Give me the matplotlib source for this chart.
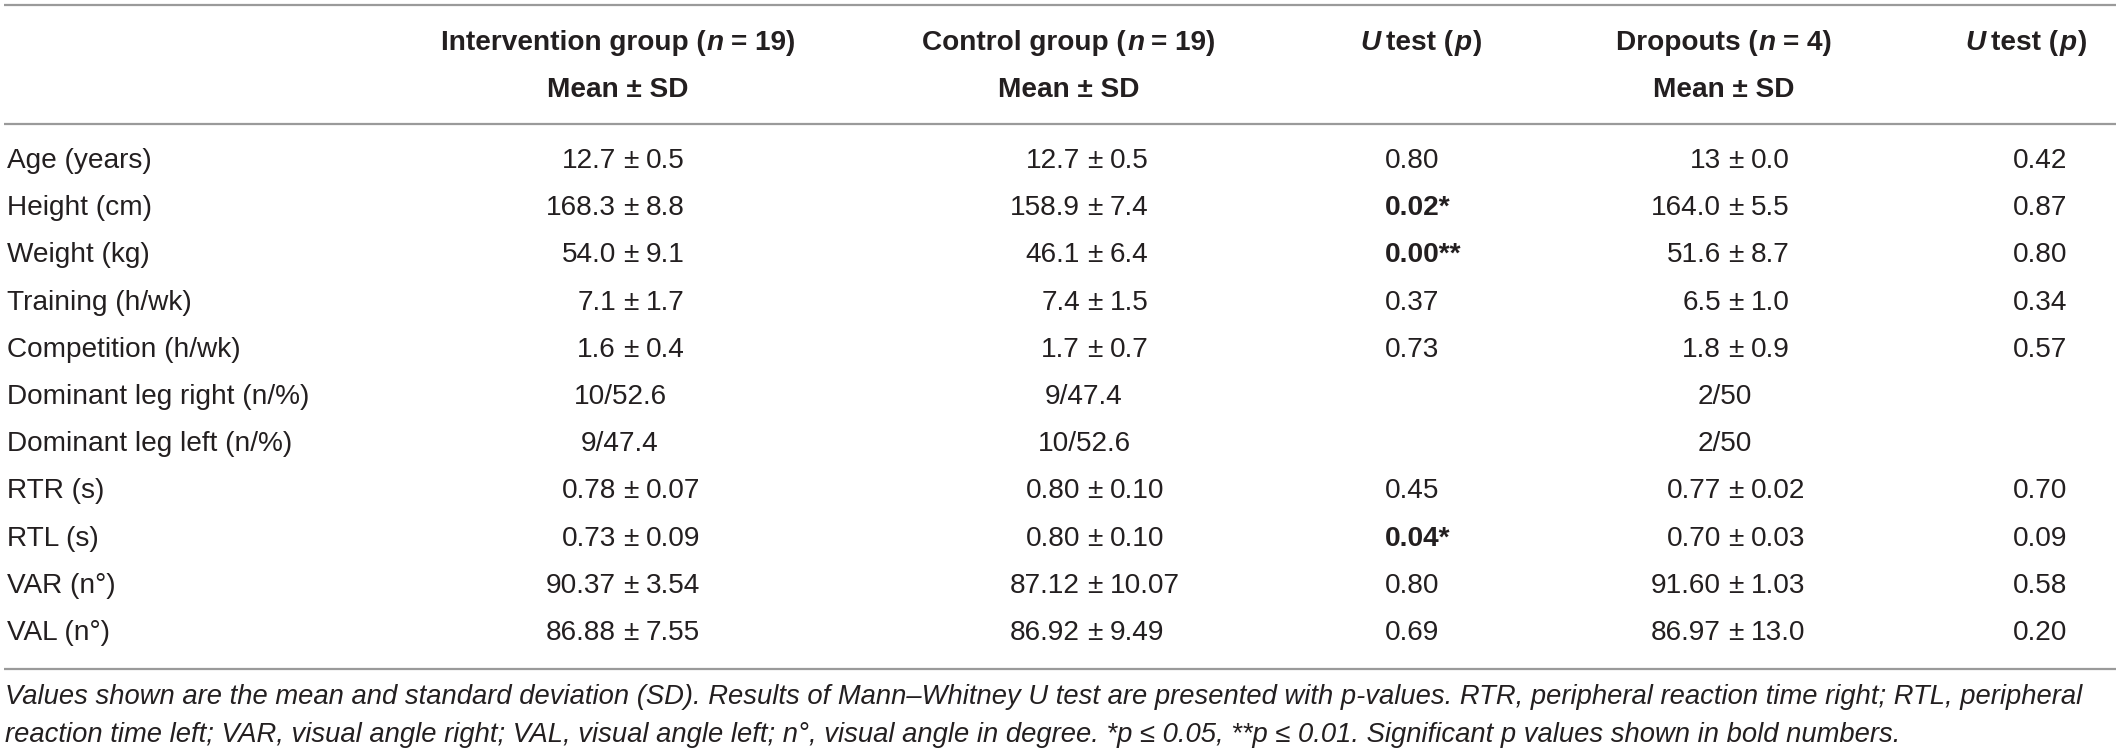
import matplotlib
matplotlib.use('Agg')
import matplotlib.pyplot as plt
from matplotlib import font_manager as fm

# table content
labels = ['Age (years)', 'Height (cm)', 'Weight (kg)', 'Training (h/wk)',
          'Competition (h/wk)', 'Dominant leg right (n/%)', 'Dominant leg left (n/%)',
          'RTR (s)', 'RTL (s)', 'VAR (n°)', 'VAL (n°)']
intervention = ['12.7 ± 0.5', '168.3 ± 8.8', '54.0 ± 9.1', '7.1 ± 1.7', '1.6 ± 0.4',
                '10/52.6', '9/47.4', '0.78 ± 0.07', '0.73 ± 0.09', '90.37 ± 3.54', '86.88 ± 7.55']
control = ['12.7 ± 0.5', '158.9 ± 7.4', '46.1 ± 6.4', '7.4 ± 1.5', '1.7 ± 0.7',
           '9/47.4', '10/52.6', '0.80 ± 0.10', '0.80 ± 0.10', '87.12 ± 10.07', '86.92 ± 9.49']
u_control = ['0.80', '0.02*', '0.00**', '0.37', '0.73', '', '', '0.45', '0.04*', '0.80', '0.69']
dropouts = ['13 ± 0.0', '164.0 ± 5.5', '51.6 ± 8.7', '6.5 ± 1.0', '1.8 ± 0.9',
            '2/50', '2/50', '0.77 ± 0.02', '0.70 ± 0.03', '91.60 ± 1.03', '86.97 ± 13.0']
u_dropouts = ['0.42', '0.87', '0.80', '0.34', '0.57', '', '', '0.70', '0.09', '0.58', '0.20']

caption = ['Values shown are the mean and standard deviation (SD). Results of Mann–Whitney U test are '
           'presented with p-values. RTR, peripheral reaction time right; RTL, peripheral',
           'reaction time left; VAR, visual angle right; VAL, visual angle left; n°, visual angle in '
           'degree. *p ≤ 0.05, **p ≤ 0.01. Significant p values shown in bold numbers.']


def has_font(name):
    try:
        fm.findfont(fm.FontProperties(family=name), fallback_to_default=False)
        return True
    except ValueError:
        return False


if has_font('Liberation Sans Narrow'):
    body_font, body_size, cap_size = 'Liberation Sans Narrow', 24.5, 24
else:
    body_font, body_size, cap_size = 'Liberation Sans', 20.2, 19.75
head_font, head_size = 'Liberation Sans', 20.2
ink = '#231f20'

fig = plt.figure(figsize=(21.18, 7.54), dpi=100)
ax = fig.add_axes([0, 0, 1, 1])
ax.set_xlim(0, 2118)
ax.set_ylim(754, 0)
ax.axis('off')
renderer = fig.canvas.get_renderer()

ax.hlines([5, 124, 669], 4, 2116, color='#9a9a9a', lw=1.6)


def runs(x, y, parts):
    # parts: (text, style) pairs or numbers for gaps in px; centred at x
    items = []
    for p in parts:
        if isinstance(p, (int, float)):
            items.append((None, p))
            continue
        s, style = p
        t = ax.text(0, y, s, ha='left', va='center', color=ink, family=head_font,
                    size=head_size, fontweight='bold',
                    fontstyle='italic' if style == 'i' else 'normal')
        items.append((t, t.get_window_extent(renderer).width))
    total = sum(w for _, w in items)
    cur = x - total / 2
    for t, w in items:
        if t is not None:
            t.set_x(cur)
        cur += w


# header
y1, y2 = 43, 90
runs(618, y1, [('Intervention group (', 'b'), 1, ('n', 'i'), 7, ('= 19)', 'b')])
runs(1069, y1, [('Control group (', 'b'), 1, ('n', 'i'), 7, ('= 19)', 'b')])
runs(1421, y1, [('U', 'i'), 6, ('test (', 'b'), 1, ('p', 'i'), 1, (')', 'b')])
runs(1724, y1, [('Dropouts (', 'b'), 1, ('n', 'i'), 7, ('= 4)', 'b')])
runs(2026, y1, [('U', 'i'), 6, ('test (', 'b'), 1, ('p', 'i'), 1, (')', 'b')])
for xc in (618, 1069, 1724):
    ax.text(xc, y2, 'Mean ± SD', ha='center', va='center', color=ink,
            family=head_font, size=head_size, fontweight='bold')

body = dict(va='center', color=ink, family=body_font, size=body_size)


def cell(x_pm, y, s):
    if ' ± ' in s:
        m, sd = s.split(' ± ')
        ax.text(x_pm - 15, y, m, ha='right', **body)
        ax.text(x_pm, y, '±', ha='center', **body)
        ax.text(x_pm + 15, y, sd, ha='left', **body)
    else:
        ax.text(x_pm - 11, y, s, ha='center', **body)


row_y0, row_dy = 161, 47.2
for i, lab in enumerate(labels):
    y = row_y0 + i * row_dy
    ax.text(7, y, lab, ha='left', **body)
    cell(631, y, intervention[i])
    cell(1095, y, control[i])
    cell(1736, y, dropouts[i])
    if u_control[i]:
        ax.text(1385, y, u_control[i], ha='left',
                fontweight='bold' if '*' in u_control[i] else 'normal', **body)
    if u_dropouts[i]:
        ax.text(2040, y, u_dropouts[i], ha='center', **body)

for j, line in enumerate(caption):
    ax.text(5, 697 + j * 38, line, ha='left', va='center', color=ink,
            family=body_font, size=cap_size, fontstyle='italic')

fig.savefig('out.png', dpi=100, facecolor='white')
